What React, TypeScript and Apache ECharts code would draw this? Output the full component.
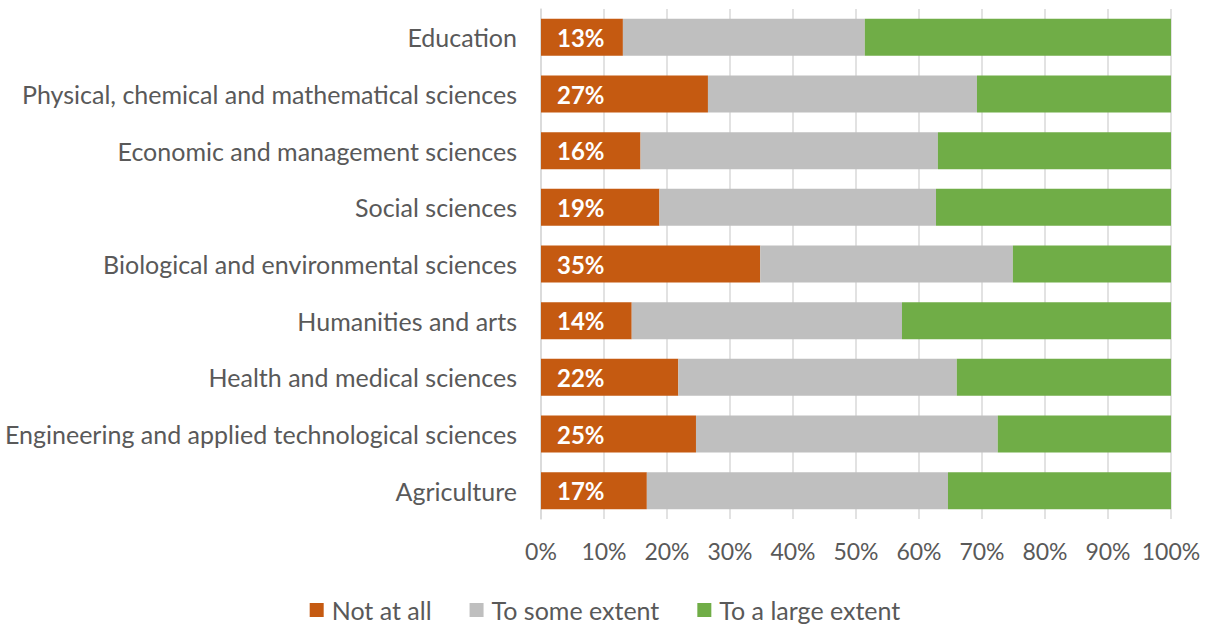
import React, { useEffect, useRef } from "react";
import * as echarts from "echarts";

const categories = [
  "Education",
  "Physical, chemical and mathematical sciences",
  "Economic and management sciences",
  "Social sciences",
  "Biological and environmental sciences",
  "Humanities and arts",
  "Health and medical sciences",
  "Engineering and applied technological sciences",
  "Agriculture",
];

const notAtAll = [13.0, 26.5, 15.8, 18.8, 34.8, 14.4, 21.8, 24.6, 16.8];
const toSomeExtent = [38.4, 42.7, 47.2, 43.9, 40.1, 42.9, 44.2, 47.9, 47.8];
const toALargeExtent = [48.6, 30.8, 37.0, 37.3, 25.1, 42.7, 34.0, 27.5, 35.4];

const seriesNames = ["Not at all", "To some extent", "To a large extent"];
const xTicks = [0, 10, 20, 30, 40, 50, 60, 70, 80, 90, 100];

const FONT = "Lato, 'Open Sans', sans-serif";

export default function App() {
  const ref = useRef<HTMLDivElement>(null);

  useEffect(() => {
    if (!ref.current) return;
    const chart = echarts.init(ref.current, undefined, { renderer: "svg" });
    chart.setOption({
      animation: false,
      textStyle: { fontFamily: FONT },
      grid: { left: 541, right: 39, top: 9, bottom: 105, containLabel: false },
      legend: {
        data: seriesNames,
        top: 596,
        left: "center",
        padding: 0,
        itemWidth: 14,
        itemHeight: 14,
        itemGap: 38,
        icon: "rect",
        textStyle: {
          fontSize: 25,
          lineHeight: 28,
          color: "#595959",
          fontFamily: FONT,
          padding: [0, 0, 0, 3],
        },
      },
      xAxis: {
        type: "value",
        min: xTicks[0],
        max: xTicks[xTicks.length - 1],
        interval: 10,
        axisLine: { show: false },
        axisTick: { show: false },
        splitLine: { show: true, lineStyle: { color: "#d9d9d9", width: 1.5 } },
        axisLabel: {
          formatter: (v: number) => `${v}%`,
          fontSize: 23,
          color: "#595959",
          margin: 20,
          fontFamily: FONT,
        },
      },
      yAxis: {
        type: "category",
        data: categories,
        inverse: true,
        axisLine: { show: true, lineStyle: { color: "#d9d9d9", width: 1.5 } },
        axisTick: { show: false },
        axisLabel: {
          fontSize: 25,
          color: "#595959",
          margin: 24,
          fontFamily: FONT,
        },
      },
      series: [
        {
          name: seriesNames[0],
          type: "bar",
          stack: "total",
          data: notAtAll,
          barWidth: 37,
          itemStyle: { color: "#C55A11" },
          label: {
            show: true,
            position: "insideLeft",
            distance: 16,
            formatter: (p: any) => `${Math.round(p.value)}%`,
            color: "#ffffff",
            fontWeight: "bold",
            fontSize: 24,
            fontFamily: FONT,
          },
        },
        {
          name: seriesNames[1],
          type: "bar",
          stack: "total",
          data: toSomeExtent,
          barWidth: 37,
          itemStyle: { color: "#BFBFBF" },
        },
        {
          name: seriesNames[2],
          type: "bar",
          stack: "total",
          data: toALargeExtent,
          barWidth: 37,
          itemStyle: { color: "#70AD47" },
        },
      ],
    });
    return () => chart.dispose();
  }, []);

  return (
    <div
      ref={ref}
      style={{ position: "fixed", left: 0, top: 0, width: 1210, height: 624, background: "#ffffff" }}
    />
  );
}
